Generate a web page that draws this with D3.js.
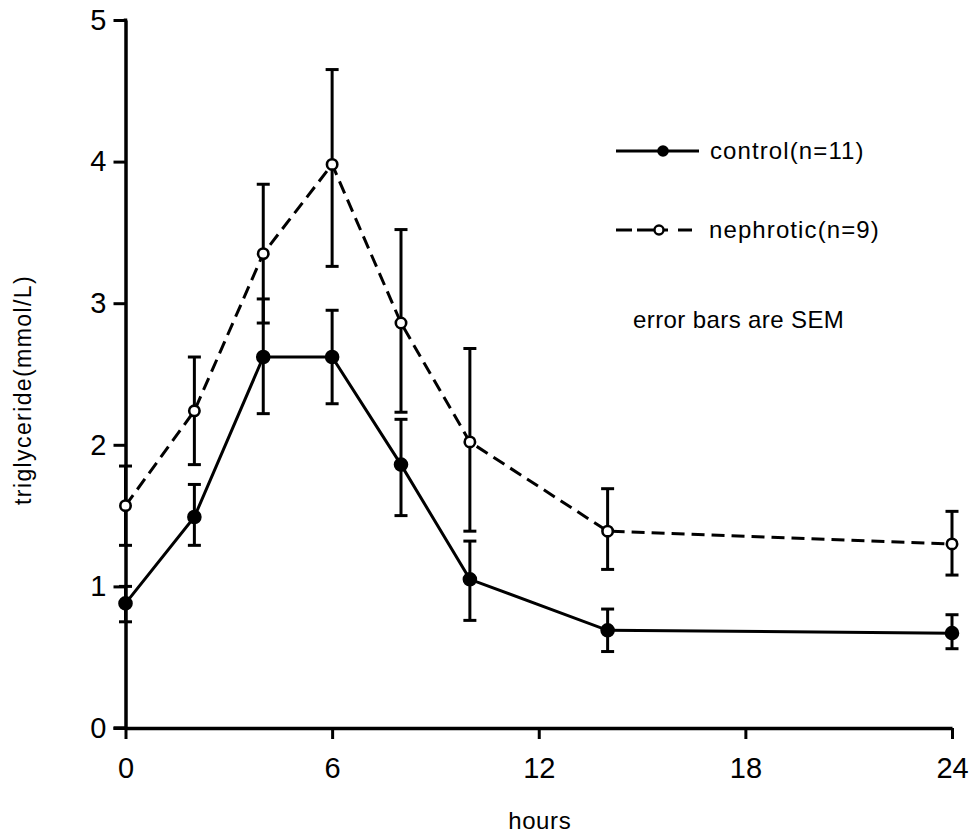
<!DOCTYPE html>
<html>
<head>
<meta charset="utf-8">
<script src="https://cdn.jsdelivr.net/npm/d3@7"></script>
<style>
  html, body { margin: 0; padding: 0; background: #fff; }
  svg { display: block; font-family: "Liberation Sans", Arial, Helvetica, sans-serif; }
</style>
</head>
<body>
<svg id="chart" width="970" height="836"></svg>
<script>
// ---- data ----
const hours = [0, 2, 4, 6, 8, 10, 14, 24];
const controlMean  = [0.88, 1.49, 2.62, 2.62, 1.86, 1.05, 0.69, 0.67];
const controlUpper = [1.00, 1.72, 3.03, 2.95, 2.18, 1.32, 0.84, 0.80];
const controlLower = [0.75, 1.29, 2.22, 2.29, 1.50, 0.76, 0.54, 0.56];
const nephMean  = [1.57, 2.24, 3.35, 3.98, 2.86, 2.02, 1.39, 1.30];
const nephUpper = [1.85, 2.62, 3.84, 4.65, 3.52, 2.68, 1.69, 1.53];
const nephLower = [1.29, 1.86, 2.86, 3.26, 2.23, 1.39, 1.12, 1.08];
const xTicks = [0, 6, 12, 18, 24];
const yTicks = [0, 1, 2, 3, 4, 5];
const legendLabels = ["control(n=11)", "nephrotic(n=9)"];
const noteText = "error bars are SEM";
const xTitle = "hours";
const yTitle = "triglyceride(mmol/L)";

// ---- chart ----
const svg = d3.select("#chart");
const x = d3.scaleLinear().domain([0, 24]).range([125.5, 952]);
const y = d3.scaleLinear().domain([0, 5]).range([728, 20]);

const axisW = 3.5;
const lineW = 3;

// y axis
const gy = svg.append("g").attr("transform", `translate(${x(0)},0)`)
  .call(d3.axisLeft(y).tickValues(yTicks).tickFormat(d3.format("d"))
        .tickSize(12).tickSizeOuter(0).tickPadding(7));
// x axis
const gx = svg.append("g").attr("transform", `translate(0,${y(0)})`)
  .call(d3.axisBottom(x).tickValues(xTicks).tickFormat(d3.format("d"))
        .tickSize(11).tickSizeOuter(0).tickPadding(18));

[gx, gy].forEach(g => {
  g.select(".domain").attr("stroke", "#000").attr("stroke-width", axisW);
  g.selectAll(".tick line").attr("stroke", "#000").attr("stroke-width", 3);
  g.selectAll(".tick text").attr("fill", "#000")
    .style("font-size", "29px").style("font-family", "'Liberation Sans', Arial, sans-serif");
});
svg.append("line").attr("x1", x(0) - 12).attr("x2", x(0)).attr("y1", y(0)).attr("y2", y(0))
  .attr("stroke", "#000").attr("stroke-width", axisW);
svg.append("line").attr("x1", x(0)).attr("x2", x(0)).attr("y1", y(5) - 1.5).attr("y2", y(5) + 1)
  .attr("stroke", "#000").attr("stroke-width", axisW);

// axis titles
svg.append("text").attr("x", x(12) + 1).attr("y", 829)
  .attr("text-anchor", "middle").style("font-size", "24px").style("letter-spacing", "0.6px")
  .text(xTitle);
svg.append("text")
  .attr("transform", `translate(31,390) rotate(-90)`)
  .attr("text-anchor", "middle").style("font-size", "23px").style("letter-spacing", "1.4px")
  .text(yTitle);

const series = [
  { mean: nephMean, up: nephUpper, lo: nephLower, dash: "13,7", fill: "#fff" },
  { mean: controlMean, up: controlUpper, lo: controlLower, dash: null, fill: "#000" }
];

const capW = 6.5;
series.forEach(s => {
  const pts = hours.map((h, i) => ({ h, m: s.mean[i], u: s.up[i], l: s.lo[i] }));
  const eb = svg.append("g").attr("stroke", "#000").attr("stroke-width", lineW);
  pts.forEach(p => {
    eb.append("line").attr("x1", x(p.h)).attr("x2", x(p.h)).attr("y1", y(p.u)).attr("y2", y(p.l));
    eb.append("line").attr("x1", x(p.h) - capW).attr("x2", x(p.h) + capW).attr("y1", y(p.u)).attr("y2", y(p.u));
    eb.append("line").attr("x1", x(p.h) - capW).attr("x2", x(p.h) + capW).attr("y1", y(p.l)).attr("y2", y(p.l));
  });
  svg.append("path").datum(pts)
    .attr("d", d3.line().x(d => x(d.h)).y(d => y(d.m)))
    .attr("fill", "none").attr("stroke", "#000").attr("stroke-width", lineW)
    .attr("stroke-dasharray", s.dash);
  svg.append("g").selectAll("circle").data(pts).join("circle")
    .attr("cx", d => x(d.h)).attr("cy", d => y(d.m))
    .attr("r", s.fill === "#000" ? 6 : 5.2)
    .attr("fill", s.fill).attr("stroke", "#000").attr("stroke-width", 2.6);
});

// legend
const lg = svg.append("g");
lg.append("line").attr("x1", 616).attr("x2", 699).attr("y1", 151).attr("y2", 151)
  .attr("stroke", "#000").attr("stroke-width", lineW);
lg.append("circle").attr("cx", 663).attr("cy", 151).attr("r", 5.8).attr("fill", "#000");
lg.append("text").attr("x", 710).attr("y", 159).style("font-size", "24px").style("letter-spacing", "1.1px")
  .text(legendLabels[0]);

[[616, 632], [637, 654], [663, 668], [678, 692]].forEach(([a, b]) => {
  lg.append("line").attr("x1", a).attr("x2", b).attr("y1", 230).attr("y2", 230)
    .attr("stroke", "#000").attr("stroke-width", lineW);
});
lg.append("circle").attr("cx", 659).attr("cy", 230).attr("r", 4.5)
  .attr("fill", "#fff").attr("stroke", "#000").attr("stroke-width", 2.4);
lg.append("text").attr("x", 709).attr("y", 238).style("font-size", "24px").style("letter-spacing", "1.1px")
  .text(legendLabels[1]);

svg.append("text").attr("x", 633).attr("y", 328).style("font-size", "24px").style("letter-spacing", "0.4px")
  .text(noteText);
</script>
</body>
</html>
